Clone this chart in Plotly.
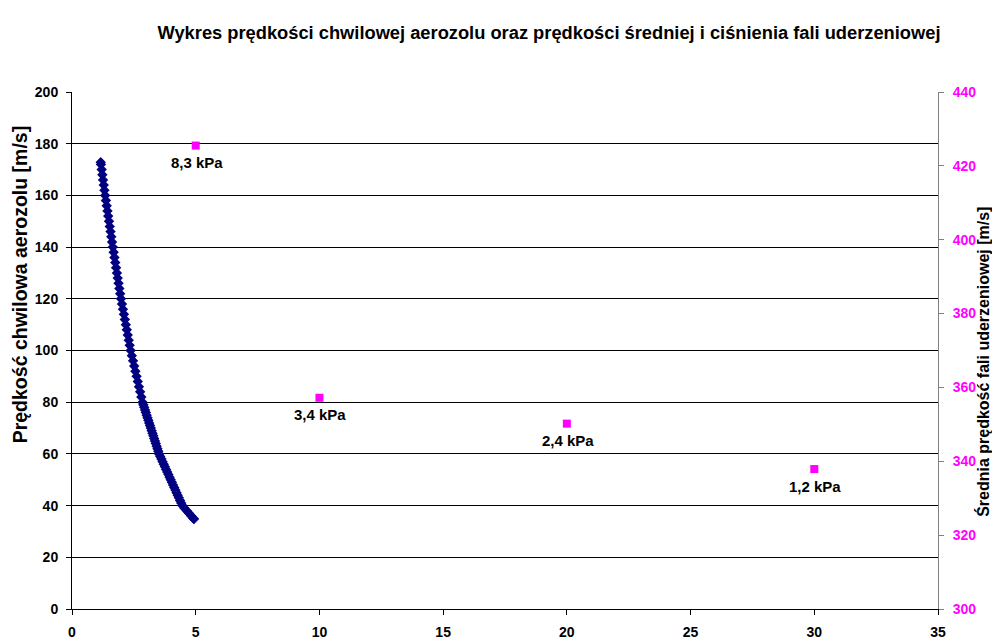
import plotly.graph_objects as go

# Instantaneous aerosol velocity (left axis)
dist = [1.16, 1.171, 1.199, 1.227, 1.255, 1.283, 1.311, 1.34,
        1.371, 1.402, 1.433, 1.464, 1.495, 1.526, 1.557, 1.588, 1.619, 1.65,
        1.683, 1.716, 1.749, 1.782, 1.815, 1.848, 1.881, 1.914, 1.947, 1.98,
        2.019, 2.058, 2.097, 2.136, 2.175, 2.214, 2.253, 2.292, 2.331, 2.37,
        2.418, 2.466, 2.514, 2.562, 2.61, 2.658, 2.706, 2.754, 2.802, 2.85,
        2.884, 2.917, 2.951, 2.984, 3.018, 3.051, 3.085, 3.118, 3.152, 3.185,
        3.219, 3.252, 3.286, 3.319, 3.353, 3.386, 3.42, 3.453, 3.487, 3.52,
        3.567, 3.614, 3.661, 3.708, 3.755, 3.802, 3.849, 3.896, 3.943, 3.99,
        4.037, 4.084, 4.131, 4.178, 4.225, 4.272, 4.319, 4.366, 4.413, 4.46,
        4.55, 4.64, 4.73, 4.82, 4.91, 4.93]
velocity = [172.8, 172, 170, 168, 166, 164, 162, 160,
            158, 156, 154, 152, 150, 148, 146, 144, 142, 140,
            138, 136, 134, 132, 130, 128, 126, 124, 122, 120,
            118, 116, 114, 112, 110, 108, 106, 104, 102, 100,
            98, 96, 94, 92, 90, 88, 86, 84, 82, 80,
            79, 78, 77, 76, 75, 74, 73, 72, 71, 70,
            69, 68, 67, 66, 65, 64, 63, 62, 61, 60,
            59, 58, 57, 56, 55, 54, 53, 52, 51, 50,
            49, 48, 47, 46, 45, 44, 43, 42, 41, 40,
            39, 38, 37, 36, 35, 34.8]

# Mean shock-wave velocity (right axis) with pressure labels
wave_dist = [5, 10, 20, 30]
wave_speed = [425.5, 357.2, 350.2, 337.9]
pressure_labels = ["8,3 kPa", "3,4 kPa", "2,4 kPa", "1,2 kPa"]

FONT = "Liberation Sans, Arial, sans-serif"

fig = go.Figure()
fig.add_trace(go.Scatter(
    x=dist, y=velocity, mode="markers",
    marker=dict(symbol="diamond", size=8, color="#000080"),
    showlegend=False, cliponaxis=False))
fig.add_trace(go.Scatter(
    x=wave_dist, y=wave_speed, mode="markers", yaxis="y2",
    marker=dict(symbol="square", size=8, color="#FF00FF"),
    showlegend=False, cliponaxis=False))

annotations = [
    dict(text="<b>Prędkość chwilowa aerozolu [m/s]</b>", textangle=-90,
         xref="paper", yref="paper", x=0, y=0.628, xshift=-52,
         xanchor="center", yanchor="middle", showarrow=False,
         font=dict(family=FONT, size=19.5, color="black")),
    dict(text="<b>Średnia prędkość fali uderzeniowej [m/s]</b>", textangle=-90,
         xref="paper", yref="paper", x=1, y=0.478, xshift=45,
         xanchor="center", yanchor="middle", showarrow=False,
         font=dict(family=FONT, size=16, color="black")),
]
for xv, yv, lab in zip(wave_dist, wave_speed, pressure_labels):
    annotations.append(dict(
        text="<b>" + lab + "</b>", x=xv, y=yv, xref="x", yref="y2",
        yshift=-17, xshift=1, xanchor="center", yanchor="middle", showarrow=False,
        font=dict(family=FONT, size=15, color="black")))

fig.update_layout(
    width=992, height=633, autosize=False,
    paper_bgcolor="white", plot_bgcolor="white",
    margin=dict(l=64, r=62, t=84, b=32, autoexpand=False),
    font=dict(family=FONT, size=14, color="black"),
    title=dict(text="<b>Wykres prędkości chwilowej aerozolu oraz prędkości średniej i ciśnienia fali uderzeniowej</b>",
               x=0.5454, xanchor="center", xref="container",
               y=0.9605, yanchor="middle", yref="container",
               font=dict(family=FONT, size=18.3, color="black")),
    xaxis=dict(range=[0, 35], dtick=5, tick0=0, showgrid=False, zeroline=False,
               showline=True, linecolor="black", linewidth=1, automargin=False,
               ticks="outside", ticklen=5, tickcolor="black", ticklabelstandoff=5,
               tickfont=dict(family=FONT, size=14, color="black", weight="bold")),
    yaxis=dict(range=[0, 200], dtick=20, tick0=0, showgrid=True, gridcolor="#000000",
               gridwidth=1, zeroline=False, automargin=False,
               showline=True, linecolor="black", linewidth=1,
               ticks="outside", ticklen=5, tickcolor="black", ticklabelstandoff=5,
               tickfont=dict(family=FONT, size=14, color="black", weight="bold")),
    yaxis2=dict(range=[300, 440], dtick=20, tick0=300, overlaying="y", side="right",
                showgrid=False, zeroline=False, automargin=False,
                showline=True, linecolor="#808080", linewidth=1,
                ticks="outside", ticklen=5, tickcolor="#808080", ticklabelstandoff=6,
                tickfont=dict(family=FONT, size=14, color="#FF00FF", weight="bold")),
    annotations=annotations,
)

fig.write_html("out.html", config={"displayModeBar": False})
